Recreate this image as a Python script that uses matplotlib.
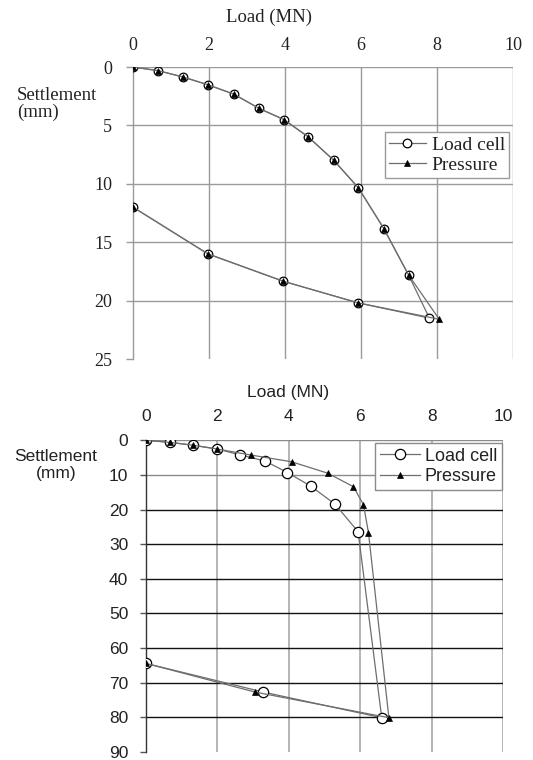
import matplotlib
matplotlib.use("Agg")
import matplotlib.pyplot as plt

# --- Test 1: load-settlement (loading and unloading) ---
t1_cell_load = [0, 0.67, 1.32, 1.97, 2.65, 3.32, 3.97, 4.61, 5.28, 5.93, 6.60, 7.25, 7.80, 5.93, 3.96, 1.97, 0]
t1_cell_settle = [0, 0.32, 0.86, 1.52, 2.32, 3.55, 4.50, 5.98, 7.98, 10.34, 13.83, 17.80, 21.50, 20.20, 18.35, 16.00, 12.00]
t1_pres_load = [0, 0.67, 1.32, 1.97, 2.65, 3.32, 3.97, 4.61, 5.28, 5.93, 6.60, 7.25, 8.06, 5.93, 3.96, 1.97, 0]
t1_pres_settle = [0, 0.32, 0.86, 1.52, 2.32, 3.55, 4.50, 5.98, 7.98, 10.34, 13.83, 17.80, 21.60, 20.20, 18.35, 16.00, 12.00]

# --- Test 2 ---
t2_cell_load = [0, 0.67, 1.31, 1.99, 2.64, 3.34, 3.96, 4.61, 5.29, 5.94, 6.60, 3.29, 0]
t2_cell_settle = [0, 0.58, 1.4, 2.5, 4.2, 6.0, 9.3, 13.2, 18.4, 26.4, 80.1, 72.7, 64.4]
t2_pres_load = [0, 0.67, 1.31, 1.99, 2.94, 4.08, 5.09, 5.81, 6.09, 6.23, 6.80, 3.06, 0]
t2_pres_settle = [0, 0.58, 1.4, 2.5, 4.25, 6.2, 9.5, 13.4, 18.6, 26.7, 80.1, 72.7, 64.4]

x_ticks = [0, 2, 4, 6, 8, 10]
t1_y_ticks = [0, 5, 10, 15, 20, 25]
t2_y_ticks = [0, 10, 20, 30, 40, 50, 60, 70, 80, 90]

label_load = "Load (MN)"
label_settle = "Settlement\n(mm)"
series_names = ["Load cell", "Pressure"]

TXT = "#222222"
LINE = "#6e6e6e"
GRID = "#9a9a9a"

fig = plt.figure(figsize=(5.33, 7.60), dpi=100)
W, H = 533, 760


def px_axes(left, top, right, bottom):
    return fig.add_axes([left / W, 1 - bottom / H, (right - left) / W, (bottom - top) / H])


def draw_series(ax, cl, cs, pl, ps, ms_c, ms_t):
    ax.plot(cl, cs, color=LINE, lw=0.9, marker="o", ms=ms_c, mfc="white",
            mec="black", mew=0.9, label=series_names[0], zorder=3)
    ax.plot(pl, ps, color=LINE, lw=0.9, marker="^", ms=ms_t, mfc="black",
            mec="black", mew=0.5, label=series_names[1], zorder=4)


# ---------------- top chart (serif) ----------------
serif = ["Liberation Serif", "DejaVu Serif"]
ax1 = px_axes(133, 67, 513, 359)
ax1.set_xlim(0, 10)
ax1.set_ylim(25, 0)
ax1.set_xticks(x_ticks)
ax1.set_yticks(t1_y_ticks)
ax1.xaxis.tick_top()
for s in ["top", "right", "bottom"]:
    ax1.spines[s].set_visible(False)
ax1.spines["left"].set_color(GRID)
ax1.spines["left"].set_linewidth(1.0)
ax1.tick_params(axis="x", length=0, pad=9, labelsize=13, labelcolor=TXT)
ax1.tick_params(axis="y", length=5, width=1.0, color=GRID, pad=10, labelsize=13, labelcolor=TXT)
for lab in ax1.get_xticklabels() + ax1.get_yticklabels():
    lab.set_family(serif)
ax1.vlines(x_ticks[1:], 0, 25, color=GRID, lw=1.0, zorder=1)
ax1.hlines(t1_y_ticks[:-1], 0, 10, color=GRID, lw=1.0, zorder=1)
draw_series(ax1, t1_cell_load, t1_cell_settle, t1_pres_load, t1_pres_settle, 6.2, 4.2)
leg1 = ax1.legend(loc="upper right", bbox_to_anchor=(0.989, 0.777), borderaxespad=0,
                  frameon=True, fancybox=False, edgecolor=GRID, framealpha=1,
                  prop={"family": serif, "size": 14}, handlelength=1.9,
                  handletextpad=0.3, borderpad=0.2, labelspacing=0.15)
leg1.get_frame().set_linewidth(1.0)
for t in leg1.get_texts():
    t.set_color(TXT)
fig.text(269 / W, 1 - 17 / H, label_load, ha="center", va="center",
         family=serif, fontsize=13.5, color=TXT)
fig.text(17 / W, 1 - 104 / H, label_settle, ha="left", va="center",
         family=serif, fontsize=13.5, color=TXT, linespacing=1.05)

# ---------------- bottom chart (sans) ----------------
sans = ["Liberation Sans", "DejaVu Sans"]
ax2 = px_axes(145.7, 440.3, 503.3, 752)
ax2.set_xlim(0, 10)
ax2.set_ylim(90, 0)
ax2.set_xticks(x_ticks)
ax2.set_yticks(t2_y_ticks)
ax2.xaxis.tick_top()
for s in ["top", "right", "bottom"]:
    ax2.spines[s].set_visible(False)
ax2.spines["left"].set_color("#333333")
ax2.spines["left"].set_linewidth(1.0)
ax2.tick_params(axis="x", length=0, pad=12, labelsize=12.5, labelcolor=TXT)
ax2.tick_params(axis="y", length=4.5, width=1.0, color="#555555", pad=8, labelsize=12.5, labelcolor=TXT)
for lab in ax2.get_xticklabels() + ax2.get_yticklabels():
    lab.set_family(sans)
ax2.vlines(x_ticks[1:], 0, 90, color="#a8a8a8", lw=1.2, zorder=1)
ax2.hlines(t2_y_ticks[:2], 0, 10, color="#8a8a8a", lw=1.0, zorder=1)
ax2.hlines(t2_y_ticks[2:-1], 0, 10, color="#111111", lw=1.0, zorder=1)
draw_series(ax2, t2_cell_load, t2_cell_settle, t2_pres_load, t2_pres_settle, 7.4, 4.2)
leg2 = ax2.legend(loc="upper right", bbox_to_anchor=(0.996, 0.991), borderaxespad=0,
                  frameon=True, fancybox=False, edgecolor="#8a8a8a", framealpha=1,
                  prop={"family": sans, "size": 13}, handlelength=2.2,
                  handletextpad=0.3, borderpad=0.25, labelspacing=0.2)
leg2.get_frame().set_linewidth(1.0)
for t in leg2.get_texts():
    t.set_color(TXT)
fig.text(288 / W, 1 - 392 / H, label_load, ha="center", va="center",
         family=sans, fontsize=12.5, color=TXT)
fig.text(56 / W, 1 - 465 / H, label_settle, ha="center", va="center",
         family=sans, fontsize=12.5, color=TXT, linespacing=1.2)

fig.savefig("out.png", dpi=100, facecolor="white")
